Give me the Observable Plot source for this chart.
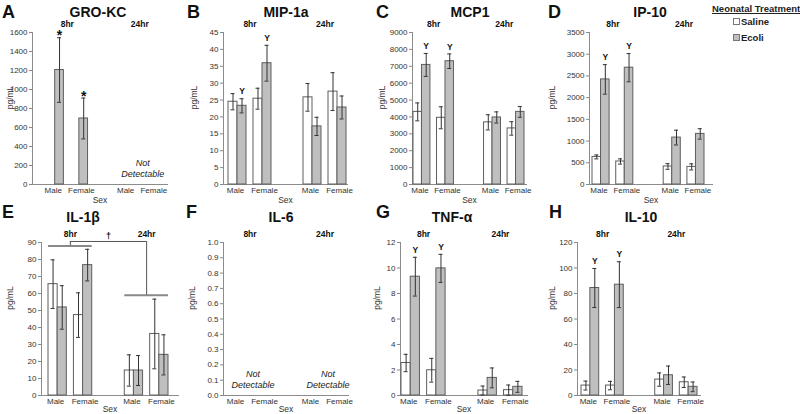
<!DOCTYPE html>
<html><head><meta charset="utf-8">
<script src="https://cdn.jsdelivr.net/npm/d3@7"></script>
<script src="https://cdn.jsdelivr.net/npm/@observablehq/plot@0.6"></script>
<style>
body{margin:0;background:#fff;font-family:Arial,"Liberation Sans",sans-serif;color:#222;}
#root{position:relative;width:800px;height:414px;overflow:hidden;background:#fff;}
.panel{position:absolute;}
.letter{position:absolute;font-weight:bold;font-size:18px;line-height:18px;color:#111;}
.title{position:absolute;font-weight:bold;font-size:14px;line-height:14px;transform:translate(-50%,-50%);white-space:nowrap;color:#111;}
.legend{position:absolute;left:712px;top:3px;font-weight:bold;font-size:9.5px;color:#222;}
.legend .head{text-decoration:underline;white-space:nowrap;}
.legend .item{position:absolute;left:29px;white-space:nowrap;font-size:9.5px;line-height:11px;}
.legend .sw{position:absolute;left:-8px;top:2px;width:5px;height:5px;border:1px solid #777;}
</style></head><body><div id="root"></div>
<script>
// ---------- data ----------
const timeLabels = ["8hr", "24hr"];
const sexLabels = ["Male", "Female"];
const treatmentLabels = ["Saline", "Ecoli"];
const panelLetters = ["A", "B", "C", "D", "E", "F", "G", "H"];
const panelTitles = ["GRO-KC", "MIP-1a", "MCP1", "IP-10", "IL-1β", "IL-6", "TNF-α", "IL-10"];
const yLabel = "pg/mL";
const xLabel = "Sex";
const notDetectableText = "Not\nDetectable";
// order of values: 8hr Male, 8hr Female, 24hr Male, 24hr Female
const groKcSaline = [null, null, null, null], groKcSalineErr = [null, null, null, null];
const groKcEcoli = [1205, 695, null, null], groKcEcoliErr = [340, 215, null, null];
const groKcSig = ["*", "*", "", ""];
const groKcNotDetectable = ["24hr"];
const mip1aSaline = [24.5, 25.4, 25.8, 27.5], mip1aSalineErr = [2.4, 3.1, 4.1, 5.6];
const mip1aEcoli = [23.3, 35.9, 17.2, 22.8], mip1aEcoliErr = [2.1, 5.3, 2.7, 3.4];
const mip1aSig = ["Y", "Y", "", ""];
const mcp1Saline = [4300, 3950, 3680, 3320], mcp1SalineErr = [530, 650, 450, 400];
const mcp1Ecoli = [7080, 7300, 3970, 4300], mcp1EcoliErr = [680, 430, 330, 320];
const mcp1Sig = ["Y", "Y", "", ""];
const ip10Saline = [635, 530, 415, 405], ip10SalineErr = [45, 60, 65, 70];
const ip10Ecoli = [2420, 2690, 1080, 1165], ip10EcoliErr = [340, 325, 170, 120];
const ip10Sig = ["Y", "Y", "", ""];
const il1bSaline = [65.5, 47.3, 14.7, 36.2], il1bSalineErr = [14.3, 13.1, 9.2, 20.5];
const il1bEcoli = [51.8, 76.7, 14.7, 23.9], il1bEcoliErr = [12.8, 9.3, 8.8, 11.8];
const il1bSig = ["", "", "", ""];
const il1bBracket8hr = 88, il1bBracket24hr = 59, il1bBracketTop = 90.6, il1bBracketMark = "†";
const il6Saline = [null, null, null, null], il6SalineErr = [null, null, null, null];
const il6Ecoli = [null, null, null, null], il6EcoliErr = [null, null, null, null];
const il6Sig = ["", "", "", ""];
const il6NotDetectable = ["8hr", "24hr"];
const tnfaSaline = [2.55, 1.98, 0.39, 0.42], tnfaSalineErr = [0.68, 0.93, 0.35, 0.4];
const tnfaEcoli = [9.32, 9.97, 1.38, 0.68], tnfaEcoliErr = [1.52, 1.1, 0.78, 0.43];
const tnfaSig = ["Y", "Y", "", ""];
const il10Saline = [7.8, 7.8, 12.5, 10.4], il10SalineErr = [3.5, 3.3, 5.2, 4.1];
const il10Ecoli = [84.3, 86.9, 15.9, 6.8], il10EcoliErr = [15.3, 18, 7.2, 3.8];
const il10Sig = ["Y", "Y", "", ""];
const yMaxes = [1600, 45, 9000, 3500, 90, 1, 12, 120];
const yTickSteps = [200, 5, 1000, 500, 10, 0.1, 2, 20];

const series = [
  [groKcSaline, groKcSalineErr, groKcEcoli, groKcEcoliErr, groKcSig, groKcNotDetectable],
  [mip1aSaline, mip1aSalineErr, mip1aEcoli, mip1aEcoliErr, mip1aSig, []],
  [mcp1Saline, mcp1SalineErr, mcp1Ecoli, mcp1EcoliErr, mcp1Sig, []],
  [ip10Saline, ip10SalineErr, ip10Ecoli, ip10EcoliErr, ip10Sig, []],
  [il1bSaline, il1bSalineErr, il1bEcoli, il1bEcoliErr, il1bSig, []],
  [il6Saline, il6SalineErr, il6Ecoli, il6EcoliErr, il6Sig, il6NotDetectable],
  [tnfaSaline, tnfaSalineErr, tnfaEcoli, tnfaEcoliErr, tnfaSig, []],
  [il10Saline, il10SalineErr, il10Ecoli, il10EcoliErr, il10Sig, []]
];

// ---------- layout ----------
const rowsLayout = [
  {top: 18, height: 190, mt: 14, mb: 24, letterY: 3, titleY: 12, ylDy: -11, sexDy: 15.5},
  {top: 228, height: 186, mt: 14, mb: 19, letterY: 203, titleY: 217, ylDy: -21, sexDy: 14}
];
const panelsLayout = [
  {left: 0, width: 180, ml: 32, mr: 13, pl: 14, pr: 7, lo: 22, lx: 2, tx: 98},
  {left: 185, width: 170, ml: 38, mr: 8, pl: 5, pr: 1, lo: 29, lx: 187, tx: 286},
  {left: 370, width: 165, ml: 42, mr: 9, pl: 1, pr: 2, lo: 30, lx: 376, tx: 470},
  {left: 548, width: 170, ml: 41, mr: 6, pl: 3, pr: 8, lo: 37, lx: 548, tx: 650},
  {left: 0, width: 185, ml: 41, mr: 7, pl: 7, pr: 10, lo: 31, lx: 2, tx: 83},
  {left: 185, width: 170, ml: 38, mr: 7, pl: 5, pr: 2, lo: 31, lx: 186, tx: 281},
  {left: 370, width: 165, ml: 30, mr: 8, pl: 1, pr: 5, lo: 23, lx: 376, tx: 452},
  {left: 548, width: 170, ml: 29, mr: 18, pl: 4, pr: 3, lo: 25, lx: 549, tx: 641}
];
const PI = 0.28;
const GAP = "gap";
const keys = [];
timeLabels.forEach(t => sexLabels.forEach(s => keys.push(t + "|" + s)));
const xDomain = [keys[0], keys[1], GAP, keys[2], keys[3]];
const maleKeys = keys.filter(k => k.endsWith("|Male"));
const femaleKeys = keys.filter(k => k.endsWith("|Female"));

const root = document.getElementById("root");

panelLetters.forEach((letter, i) => {
  const L = panelsLayout[i];
  const Rw = rowsLayout[i < 4 ? 0 : 1];
  const [sal, salE, eco, ecoE, sig, nd] = series[i];
  const R = L.width - L.ml - L.mr;
  const step = (R - L.pl - L.pr) / (5 - PI);
  const bw = (1 - PI) * step, half = bw / 2;
  const po = (L.pl + L.pr) / (2 * step);
  const align = L.pl / (L.pl + L.pr);

  const salRows = keys.map((k, j) => ({key: k, v: sal[j], e: salE[j]})).filter(d => d.v != null);
  const ecoRows = keys.map((k, j) => ({key: k, v: eco[j], e: ecoE[j], sig: sig[j]})).filter(d => d.v != null);
  const yTicks = d3.range(0, yMaxes[i] + yTickSteps[i] / 2, yTickSteps[i]);
  const fmt = yTickSteps[i] < 1 ? d3.format(".1f") : d3.format("d");
  const sexOf = k => k.split("|")[1];
  const capIn = bw - half / 2 - 2, capOut = half / 2 - 2;

  const marks = [
    Plot.axisY({ticks: yTicks, tickSize: 3, tickPadding: 2, tickFormat: fmt, label: null, stroke: "#888", fill: "#333"}),
    Plot.axisX({ticks: maleKeys, tickSize: 0, tickPadding: 3, tickFormat: sexOf, label: null, fill: "#333", dx: -2}),
    Plot.axisX({ticks: femaleKeys, tickSize: 0, tickPadding: 3, tickFormat: sexOf, label: null, fill: "#333", dx: 2}),
    Plot.frame({anchor: "left", stroke: "#8c8c8c"}),
    Plot.frame({anchor: "bottom", stroke: "#8c8c8c"}),
    Plot.barY(salRows, {x: "key", y: "v", insetRight: half, fill: "#ffffff", stroke: "#5e5e5e", strokeWidth: 1}),
    Plot.barY(ecoRows, {x: "key", y: "v", insetLeft: half, fill: "#bfbfbf", stroke: "#5e5e5e", strokeWidth: 1}),
    Plot.ruleX(salRows, {x: "key", y1: d => d.v - d.e, y2: d => d.v + d.e, dx: -half / 2, stroke: "#333"}),
    Plot.ruleX(ecoRows, {x: "key", y1: d => d.v - d.e, y2: d => d.v + d.e, dx: half / 2, stroke: "#333"}),
    Plot.tickY(salRows, {x: "key", y: d => d.v + d.e, insetLeft: capOut, insetRight: capIn, stroke: "#333"}),
    Plot.tickY(salRows, {x: "key", y: d => d.v - d.e, insetLeft: capOut, insetRight: capIn, stroke: "#333"}),
    Plot.tickY(ecoRows, {x: "key", y: d => d.v + d.e, insetLeft: capIn, insetRight: capOut, stroke: "#333"}),
    Plot.tickY(ecoRows, {x: "key", y: d => d.v - d.e, insetLeft: capIn, insetRight: capOut, stroke: "#333"}),
    Plot.text(ecoRows.filter(d => d.sig === "*"), {x: "key", y: d => d.v + d.e, text: "sig", dx: half / 2, dy: -2, fontWeight: "bold", fontSize: 14, fill: "#111"}),
    Plot.text(ecoRows.filter(d => d.sig && d.sig !== "*"), {x: "key", y: d => d.v + d.e, text: "sig", dx: half / 2, dy: -7, fontWeight: "bold", fontSize: 8.5, fill: "#111"}),
    Plot.text(timeLabels, {x: t => t + "|Male", text: t => t, frameAnchor: "top", lineAnchor: "middle", textAnchor: "middle", dx: step / 2, dy: -8, fontWeight: "bold", fontSize: 8.5, fill: "#111"}),
    Plot.text(nd, {x: t => t + "|Male", text: () => notDetectableText, frameAnchor: "bottom", lineAnchor: "middle", textAnchor: "middle", dx: step / 2 + 3, dy: -16.5, fontStyle: "italic", fontSize: 9, lineHeight: 1.25, fill: "#222"}),
    Plot.text([xLabel], {text: d => d, frameAnchor: "bottom", lineAnchor: "middle", textAnchor: "middle", dy: Rw.sexDy, fontSize: 8.5, fill: "#333"}),
    Plot.text([yLabel], {text: d => d, frameAnchor: "left", rotate: -90, lineAnchor: "middle", textAnchor: "middle", dx: -L.lo, dy: Rw.ylDy, fontSize: 8.5, fill: "#333"})
  ];

  if (i === 4) {
    // significance bracket, anchored on the first band and offset by whole steps
    const k0 = () => keys[0];
    const c8 = (step + bw) / 2;            // centre of the 8hr group, from band start
    const c24 = c8 + 3 * step;             // centre of the 24hr group
    marks.push(
      Plot.tickY([il1bBracket8hr], {x: k0, y: d => d, insetLeft: 0, insetRight: -step, stroke: "#8a8a8a", strokeWidth: 2}),
      Plot.tickY([il1bBracket24hr], {x: k0, y: d => d, insetLeft: 3 * step, insetRight: -4 * step, stroke: "#8a8a8a", strokeWidth: 2}),
      Plot.tickY([il1bBracketTop], {x: k0, y: d => d, insetLeft: c8, insetRight: bw - c24, stroke: "#555"}),
      Plot.ruleX([il1bBracket8hr], {x: k0, y1: d => d, y2: () => il1bBracketTop, dx: c8 - bw / 2, stroke: "#555"}),
      Plot.ruleX([il1bBracket24hr], {x: k0, y1: d => d, y2: () => il1bBracketTop, dx: c24 - bw / 2, stroke: "#555"}),
      Plot.text([il1bBracketMark], {x: () => GAP, y: () => il1bBracketTop, text: d => d, dy: -5, fontWeight: "bold", fontSize: 9, fill: "#111"})
    );
  }

  const svg = Plot.plot({
    width: L.width, height: Rw.height,
    marginLeft: L.ml, marginRight: L.mr, marginTop: Rw.mt, marginBottom: Rw.mb,
    style: {background: "transparent", overflow: "visible", fontFamily: "Arial, 'Liberation Sans', sans-serif", fontSize: "8px", color: "#333"},
    x: {type: "band", domain: xDomain, paddingInner: PI, paddingOuter: po, align, round: false},
    y: {domain: [0, yMaxes[i]]},
    marks
  });
  const div = document.createElement("div");
  div.className = "panel";
  div.style.left = L.left + "px";
  div.style.top = Rw.top + "px";
  div.style.width = L.width + "px";
  div.appendChild(svg);
  root.appendChild(div);

  const lt = document.createElement("div");
  lt.className = "letter";
  lt.style.left = L.lx + "px";
  lt.style.top = Rw.letterY + "px";
  lt.textContent = letter;
  root.appendChild(lt);

  const tt = document.createElement("div");
  tt.className = "title";
  tt.style.left = L.tx + "px";
  tt.style.top = Rw.titleY + "px";
  tt.textContent = panelTitles[i];
  root.appendChild(tt);
});

// legend
const lg = document.createElement("div");
lg.className = "legend";
const head = document.createElement("div");
head.className = "head";
head.textContent = "Neonatal Treatment";
lg.appendChild(head);
const swFill = ["#ffffff", "#bfbfbf"];
treatmentLabels.forEach((t, j) => {
  const it = document.createElement("div");
  it.className = "item";
  it.style.top = (13 + j * 16) + "px";
  const sw = document.createElement("span");
  sw.className = "sw";
  sw.style.background = swFill[j];
  it.appendChild(sw);
  it.appendChild(document.createTextNode(t));
  lg.appendChild(it);
});
root.appendChild(lg);
</script></body></html>
